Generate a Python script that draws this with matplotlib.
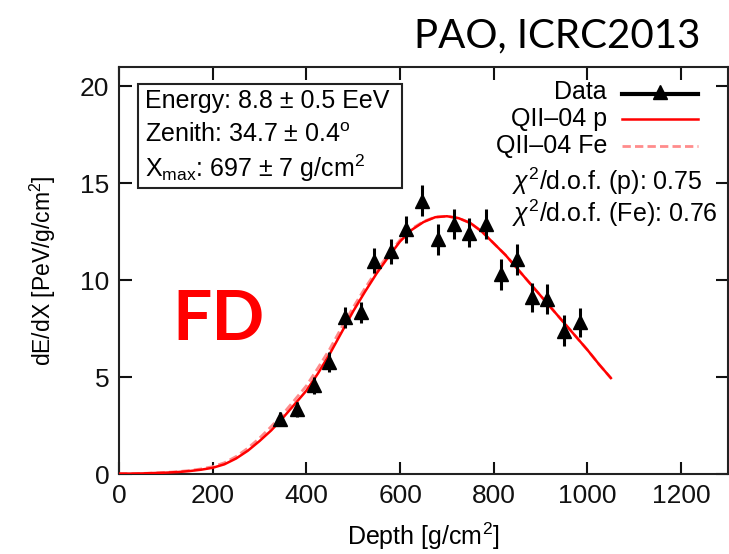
import matplotlib
matplotlib.use("Agg")
import matplotlib.pyplot as plt
from matplotlib.lines import Line2D
from matplotlib.patches import Rectangle

# ---- data ----
depth = [343, 381, 416, 448, 482, 517, 544, 581, 612, 647,
         682, 715, 747, 783, 815, 850, 882, 914, 950, 985]
dedx = [2.86, 3.33, 4.58, 5.77, 8.09, 8.35, 11.0, 11.5, 12.63, 14.09,
        12.1, 12.9, 12.46, 12.9, 10.3, 11.09, 9.12, 9.03, 7.4, 7.83]
dedx_err = [0.35, 0.4, 0.45, 0.5, 0.55, 0.55, 0.65, 0.65, 0.7, 0.8,
            0.8, 0.75, 0.75, 0.75, 0.8, 0.8, 0.75, 0.75, 0.8, 0.75]

curve_x = [0, 25, 50, 75, 100, 125, 150, 175, 200, 225, 250, 275, 300, 325,
           350, 375, 400, 425, 450, 475, 500, 525, 550, 575, 600, 625, 650,
           675, 700, 725, 750, 775, 800, 825, 850, 875, 900, 925, 950, 975,
           1000, 1025, 1050]
curve_p = [0.02, 0.02, 0.03, 0.05, 0.07, 0.1, 0.15, 0.22, 0.32, 0.5, 0.8, 1.2,
           1.7, 2.25, 2.9, 3.6, 4.3, 5.2, 6.2, 7.3, 8.4, 9.4, 10.35, 11.2, 12.0,
           12.6, 13.0, 13.25, 13.3, 13.2, 12.95, 12.5, 11.9, 11.3, 10.6, 9.9,
           9.2, 8.5, 7.8, 7.1, 6.4, 5.65, 4.95]
curve_fe = [0.02, 0.02, 0.03, 0.05, 0.08, 0.12, 0.18, 0.26, 0.38, 0.58, 0.9, 1.33,
            1.85, 2.45, 3.1, 3.82, 4.55, 5.48, 6.45, 7.55, 8.6, 9.58, 10.5, 11.32, 12.08,
            12.66, 13.03, 13.26, 13.3, 13.2, 12.95, 12.5, 11.9, 11.3, 10.6, 9.9,
            9.2, 8.5, 7.8, 7.1, 6.4, 5.65, 4.95]

xticks = [0, 200, 400, 600, 800, 1000, 1200]
yticks = [0, 5, 10, 15, 20]

W, H = 729, 554
plt.rcParams['font.family'] = ['Liberation Sans', 'DejaVu Sans']
plt.rcParams['mathtext.fontset'] = 'custom'
plt.rcParams['mathtext.rm'] = 'Liberation Sans'
plt.rcParams['mathtext.it'] = 'Liberation Sans:italic'
fig = plt.figure(figsize=(W / 100, H / 100), dpi=100)
ax = fig.add_axes([119 / W, 1 - 474 / H, (728 - 119) / W, (474 - 67) / H])

def fx(px):
    return px / W

def fy(py):
    return 1 - py / H

ax.plot(curve_x, curve_fe, color='#ff8c8c', lw=2.0, ls=(0, (3, 1.5)), zorder=2)
ax.plot(curve_x, curve_p, color='#ff0000', lw=1.8, zorder=3)
ax.errorbar(depth, dedx, yerr=dedx_err, fmt='^', color='black', ms=10,
            elinewidth=2.2, capsize=0, zorder=4)

ax.set_xlim(0, 1300)
ax.set_ylim(0, 21)
ax.set_xticks(xticks)
ax.set_yticks(yticks)
ax.tick_params(direction='in', length=9, width=1.5, top=True, right=True,
               labelsize=19, pad=7, colors='#111111')
for s in ax.spines.values():
    s.set_linewidth(1.5)
    s.set_color('#222222')

ax.set_xlabel('Depth [g/cm$^2$]', fontsize=18, labelpad=9)
ax.set_ylabel('dE/dX [PeV/g/cm$^2$]', fontsize=16.5, labelpad=16)

# info box
fig.patches.append(Rectangle((fx(138), fy(188)), (402 - 138) / W, (188 - 84) / H,
                             transform=fig.transFigure, fill=False, lw=1.5,
                             edgecolor='#222222', zorder=5))
fig.text(fx(145), fy(101), 'Energy: 8.8 ± 0.5 EeV', fontsize=18, va='center', ha='left')
fig.text(fx(145), fy(135), 'Zenith: 34.7 ± 0.4$^{\\rm o}$', fontsize=18, va='center', ha='left')
fig.text(fx(145), fy(168), 'X$_{\\rm max}$: 697 ± 7 g/cm$^2$', fontsize=18, va='center', ha='left')

# legend
rows = [(92, 'Data'), (119, 'QII\u201304 p'), (146, 'QII\u201304 Fe')]
for py, lab in rows:
    fig.text(fx(607), fy(py), lab, fontsize=18, va='center', ha='right')
fig.add_artist(Line2D([fx(622), fx(698)], [fy(94), fy(94)], color='black', lw=3,
                      transform=fig.transFigure))
fig.add_artist(Line2D([fx(660)], [fy(92)], color='black', marker='^', ms=10,
                      transform=fig.transFigure))
fig.add_artist(Line2D([fx(622), fx(698)], [fy(119), fy(119)], color='#ff0000', lw=1.8,
                      transform=fig.transFigure))
fig.add_artist(Line2D([fx(622), fx(698)], [fy(146), fy(146)], color='#ff8c8c', lw=2.0,
                      ls=(0, (3, 1.5)), transform=fig.transFigure))
fig.text(fx(512), fy(181), '$\\chi^2$/d.o.f. (p): 0.75', fontsize=18, va='center', ha='left')
fig.text(fx(512), fy(213), '$\\chi^2$/d.o.f. (Fe): 0.76', fontsize=18, va='center', ha='left')

# annotations
fig.text(fx(700), fy(36), 'PAO, ICRC2013', fontsize=29, family=['Lato', 'DejaVu Sans'],
         ha='right', va='center')
fig.text(fx(172), fy(321), 'FD', fontsize=50, family=['Lato', 'DejaVu Sans'],
         weight='bold', color='#ff0000', ha='left', va='center')

fig.savefig('out.png', dpi=100)
